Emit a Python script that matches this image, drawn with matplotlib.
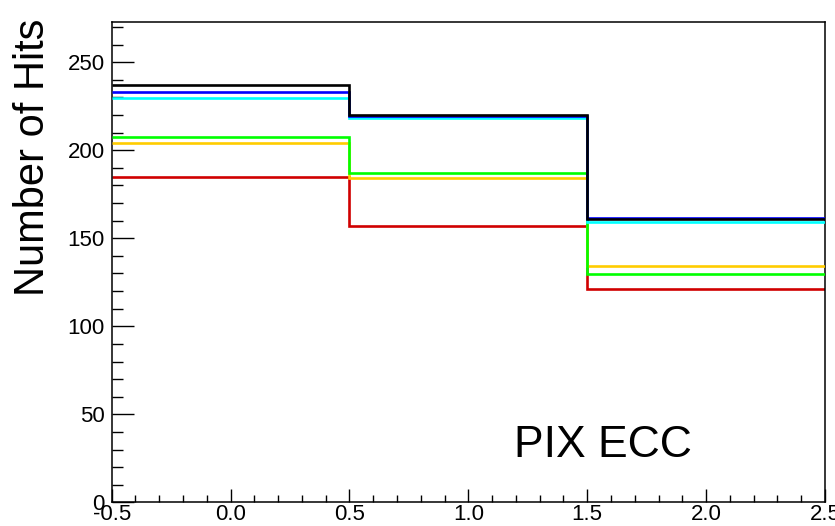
import matplotlib
matplotlib.use("Agg")
import matplotlib.pyplot as plt
from matplotlib.ticker import MultipleLocator, FormatStrFormatter

plt.rcParams['font.family'] = ['Liberation Sans', 'DejaVu Sans']

bin_edges = [-0.5, 0.5, 1.5, 2.5]
series_names = ["red", "orange", "green", "cyan", "blue", "black"]
values_red = [185, 157, 121]
values_orange = [204.3, 184.4, 134.3]
values_green = [207.7, 187.3, 129.5]
values_cyan = [229.5, 218.5, 159.4]
values_blue = [233.3, 219.3, 161.7]
values_black = [237.1, 220.0, 160.8]
colors = ["#d00000", "#ffcc00", "#00ff00", "#00ffff", "#0000ff", "#000000"]
all_values = [values_red, values_orange, values_green, values_cyan, values_blue, values_black]

fig = plt.figure(figsize=(8.35, 5.26), dpi=100)
ax = fig.add_axes([0.1338, 0.045, 0.988 - 0.1338, 0.9576 - 0.045])

for i, (vals, c) in enumerate(zip(all_values, colors)):
    ax.stairs(vals, bin_edges, baseline=None, color=c, linewidth=1.9, zorder=2 + i)

ax.set_xlim(-0.5, 2.5)
ax.set_ylim(0, 272.7)

ax.xaxis.set_major_locator(MultipleLocator(0.5))
ax.xaxis.set_minor_locator(MultipleLocator(0.1))
ax.yaxis.set_major_locator(MultipleLocator(50))
ax.yaxis.set_minor_locator(MultipleLocator(10))
ax.xaxis.set_major_formatter(FormatStrFormatter('%.1f'))

ax.tick_params(axis='x', which='major', direction='in', length=9.6, width=1.0, labelsize=16, pad=1)
ax.tick_params(axis='x', which='minor', direction='in', length=4.8, width=1.0)
ax.tick_params(axis='y', which='major', direction='in', length=16, width=1.0, labelsize=16, pad=5)
ax.tick_params(axis='y', which='minor', direction='in', length=8, width=1.0)
ax.tick_params(top=False, right=False, which='both')

for sp in ax.spines.values():
    sp.set_linewidth(1.1)

ax.set_ylabel("Number of Hits", fontsize=30)
ax.yaxis.set_label_coords(-0.083, 0.718)

ax.text(1.565, 25.7, "PIX ECC", fontsize=32, ha='center', va='baseline')

fig.savefig("out.png", dpi=100)
